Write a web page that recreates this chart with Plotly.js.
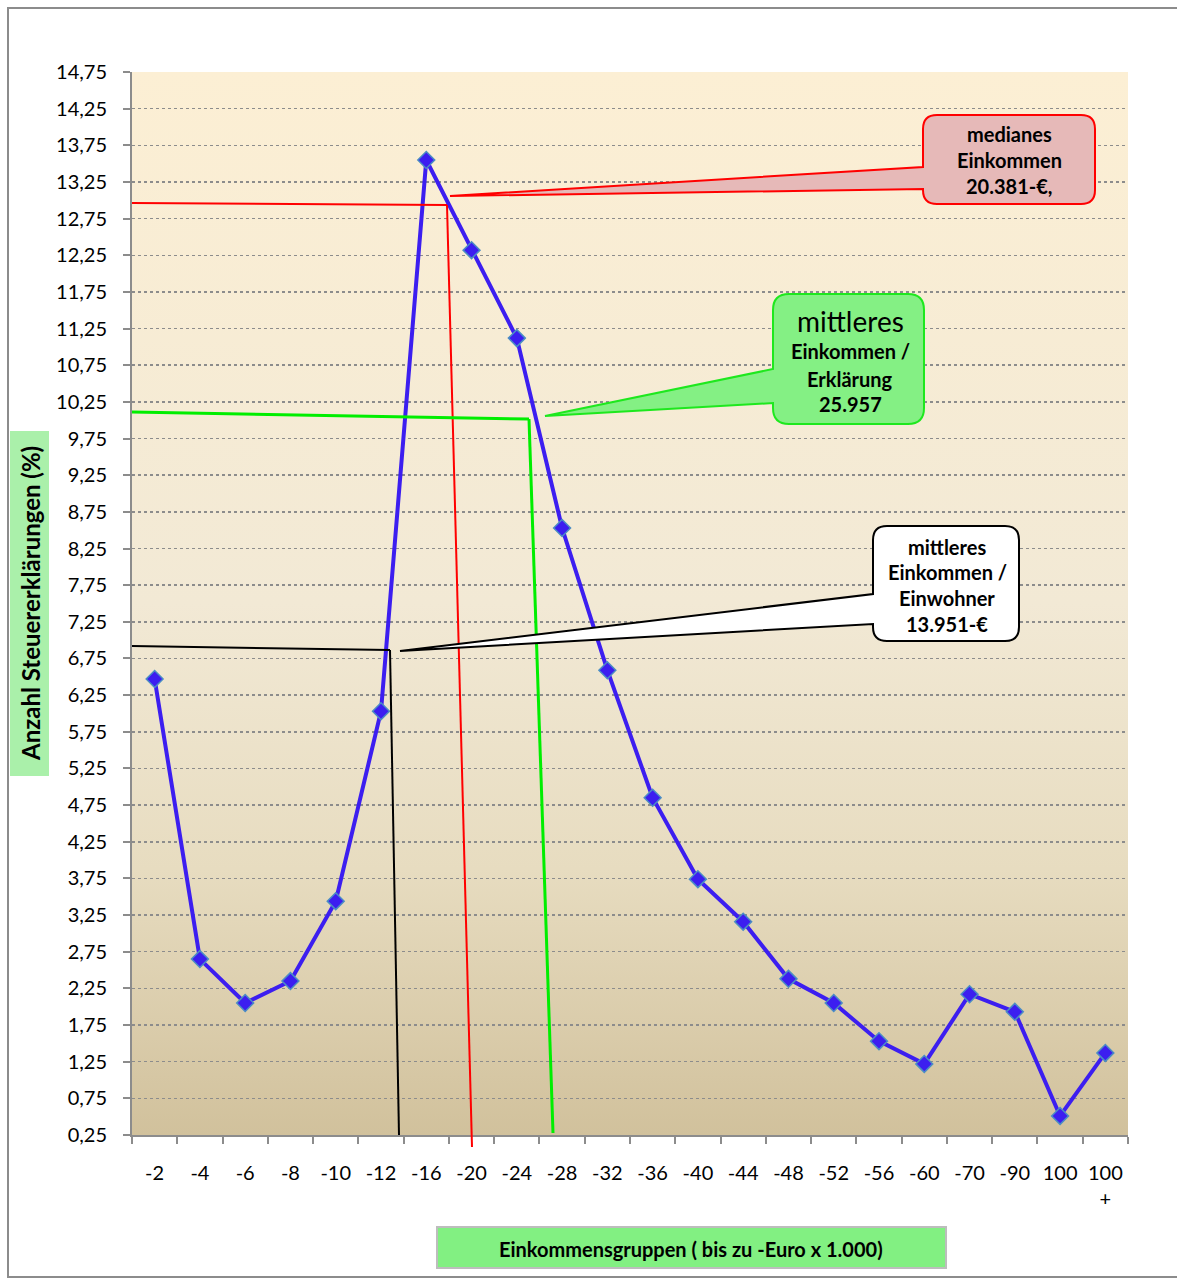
<!DOCTYPE html>
<html>
<head>
<meta charset="utf-8">
<script src="https://cdn.plot.ly/plotly-3.0.1.min.js"></script>
<style>html,body{margin:0;padding:0;background:#fff;}#chart{width:1177px;height:1279px;}</style>
</head>
<body>
<div id="chart"></div>
<script>
// ---- data ----
const categories = ["-2","-4","-6","-8","-10","-12","-16","-20","-24","-28","-32","-36","-40","-44","-48","-52","-56","-60","-70","-90","100","100<br>+"];
const values = [6.47,2.65,2.05,2.35,3.44,6.03,13.55,12.32,11.12,8.53,6.59,4.85,3.74,3.16,2.38,2.05,1.53,1.22,2.17,1.93,0.51,1.37];
const yTitle = "Anzahl Steuererklärungen (%)";
const xTitle = "Einkommensgruppen ( bis zu -Euro x 1.000)";
const medianText = ["medianes","Einkommen","20.381-€,"];
const meanDeclText = ["mittleres","Einkommen /","Erklärung","25.957"];
const meanResText = ["mittleres","Einkommen /","Einwohner","13.951-€"];

const xIdx = categories.map((c,i)=>i);

// ---- layout helpers (pixel -> paper) ----
const W = 1177, H = 1279;
const M = {l:132, r:49, t:72, b:144};
const PW = W - M.l - M.r, PH = H - M.t - M.b;
const px = x => (x - M.l) / PW;
const py = y => (H - M.b - y) / PH;
const FONT = "Lato, 'Open Sans', sans-serif";

function callout(x0,y0,x1,y1,r,wy0,wy1,tx,ty){
  const p = (x,y)=> px(x)+","+py(y);
  return "M"+p(x0+r,y0)+" L"+p(x1-r,y0)+" Q"+p(x1,y0)+" "+p(x1,y0+r)+
    " L"+p(x1,y1-r)+" Q"+p(x1,y1)+" "+p(x1-r,y1)+
    " L"+p(x0+r,y1)+" Q"+p(x0,y1)+" "+p(x0,y1-r)+
    " L"+p(x0,wy1)+" L"+p(tx,ty)+" L"+p(x0,wy0)+
    " L"+p(x0,y0+r)+" Q"+p(x0,y0)+" "+p(x0+r,y0)+" Z";
}
function seg(x0,y0,x1,y1,color,w){
  return {type:'line',xref:'paper',yref:'paper',x0:px(x0),y0:py(y0),x1:px(x1),y1:py(y1),
    line:{color:color,width:w},layer:'above'};
}
function txt(x,y,t,size,bold,extra){
  return Object.assign({xref:'paper',yref:'paper',x:px(x),y:py(y),text:bold?"<b>"+t+"</b>":t,
    showarrow:false,xanchor:'center',yanchor:'middle',font:{family:FONT,size:size,color:'#000'}},extra||{});
}

// gradient background image
const svg = "<svg xmlns='http://www.w3.org/2000/svg' width='10' height='100' viewBox='0 0 10 100' preserveAspectRatio='none'>"+
 "<defs><linearGradient id='g' x1='0' y1='0' x2='0' y2='1'>"+
 "<stop offset='0' stop-color='#fcefd4'/><stop offset='0.5' stop-color='#f2e9d5'/>"+
 "<stop offset='0.75' stop-color='#e7dcc0'/><stop offset='1' stop-color='#d1c19c'/>"+
 "</linearGradient></defs><rect x='0' y='0' width='10' height='100' fill='url(#g)'/></svg>";
const bgSrc = "data:image/svg+xml;charset=utf-8," + encodeURIComponent(svg);

const trace = {
  x: xIdx, y: values, type:'scatter', mode:'lines+markers',
  line:{color:'#3c1ef0', width:4},
  marker:{symbol:'diamond', size:13, color:'#3c1ef0', line:{color:'#4b8dc4', width:1.5}},
  hoverinfo:'skip', showlegend:false
};

const shapes = [
  // outer frame
  {type:'rect',xref:'paper',yref:'paper',x0:px(8),y0:py(8),x1:px(1182),y1:py(1277),line:{color:'#8c8c8c',width:2},layer:'below'},
  // y title background
  {type:'rect',xref:'paper',yref:'paper',x0:px(10),y0:py(431),x1:px(49),y1:py(776),fillcolor:'#aaf0aa',line:{width:0}},
  // x title box
  {type:'rect',xref:'paper',yref:'paper',x0:px(437),y0:py(1227),x1:px(946),y1:py(1268),fillcolor:'#82f082',line:{color:'#bdbdbd',width:2}},
  // red connectors
  seg(132,203,447,205,'#ff0000',2),
  seg(447,205,472,1147,'#ff0000',2),
  // green connectors
  seg(132,412,529,419,'#00ee00',3),
  seg(529,419,553,1133,'#00ee00',3),
  // black connectors
  seg(132,646,390,650,'#000000',2),
  seg(390,650,399,1135,'#000000',2),
  // callouts
  {type:'path',xref:'paper',yref:'paper',path:callout(923,115,1095,204,14,167,189,450,196),fillcolor:'#e6b9b8',line:{color:'#ff0000',width:2},layer:'above'},
  {type:'path',xref:'paper',yref:'paper',path:callout(773,294,924,424,16,369,403,545,416),fillcolor:'#84f084',line:{color:'#1ee81e',width:2},layer:'above'},
  {type:'path',xref:'paper',yref:'paper',path:callout(873,526,1019,641,14,594,624,400,651),fillcolor:'#ffffff',line:{color:'#000000',width:2},layer:'above'}
];

const annotations = [
  txt(30,604,yTitle,24,true,{textangle:-90}),
  txt(691,1249,xTitle,20,true),
  txt(1009,134,medianText[0],20,true), txt(1009,160,medianText[1],20,true), txt(1009,186,medianText[2],20,true),
  txt(850,321,meanDeclText[0],28,false), txt(850,351,meanDeclText[1],20,true), txt(850,379,meanDeclText[2],20,true), txt(850,404,meanDeclText[3],20,true),
  txt(947,547,meanResText[0],20,true), txt(947,572,meanResText[1],20,true), txt(947,598,meanResText[2],20,true), txt(947,624,meanResText[3],20,true)
];

const layout = {
  width:W, height:H, margin:M,
  paper_bgcolor:'#ffffff', plot_bgcolor:'rgba(0,0,0,0)',
  separators:',.',
  font:{family:FONT, size:20, color:'#000'},
  showlegend:false,
  images:[{source:bgSrc, xref:'paper', yref:'paper', x:0, y:1, sizex:1, sizey:1, xanchor:'left', yanchor:'top', sizing:'stretch', layer:'below'}],
  xaxis:{
    range:[-0.5,21.5], tickmode:'array', tickvals:xIdx, ticktext:categories,
    ticks:'', showgrid:false, zeroline:false, showline:true, linecolor:'#8c8c8c', linewidth:2,
    ticklabelstandoff:19, tickfont:{family:FONT,size:20,color:'#000'},
    minor:{ticks:'outside', tick0:-0.5, dtick:1, ticklen:7, tickwidth:2, tickcolor:'#8c8c8c', showgrid:false},
    fixedrange:true
  },
  yaxis:{
    range:[0.25,14.75], tickmode:'linear', tick0:0.25, dtick:0.5, tickformat:'.2f',
    ticks:'outside', ticklen:7, tickwidth:2, tickcolor:'#8c8c8c',
    showgrid:true, gridcolor:'#8c8c8c', gridwidth:1.5, griddash:'dot',
    zeroline:false, showline:true, linecolor:'#8c8c8c', linewidth:2,
    ticklabelstandoff:12, tickfont:{family:FONT,size:20,color:'#000'},
    fixedrange:true
  },
  shapes:shapes, annotations:annotations
};

Plotly.newPlot('chart',[trace],layout,{displayModeBar:false, staticPlot:true});
</script>
</body>
</html>
